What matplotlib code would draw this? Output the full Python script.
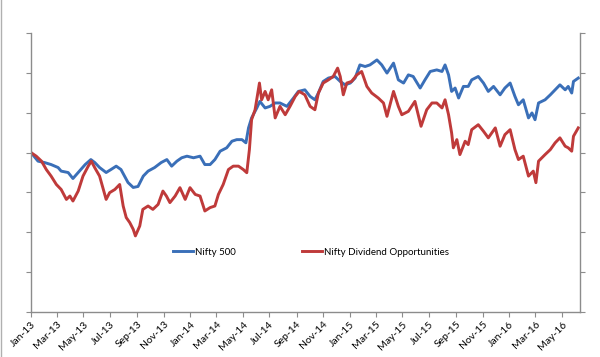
import numpy as np
import pandas as pd
import matplotlib
matplotlib.use('Agg')
import matplotlib.pyplot as plt
import matplotlib.dates as mdates
from matplotlib.lines import Line2D

# index values (base 100 on 1-Jan-2013), sampled by eye from the chart
start = pd.Timestamp('2013-01-01')
end = pd.Timestamp('2016-06-11')

n500_days = [0, 16, 31, 46, 62, 69, 85, 96, 108, 124, 137, 146, 157, 172, 183, 195, 206, 222,
             234, 245, 257, 268, 283, 298, 311, 322, 334, 345, 357, 372, 387, 398, 410, 421,
             433, 448, 460, 471, 483, 492, 498, 505, 517, 524, 536, 547, 559, 570, 586, 601,
             612, 627, 639, 650, 658, 669, 681, 696, 708, 719, 731, 742, 753, 765, 776, 792,
             803, 815, 830, 841, 853, 864, 875, 891, 902, 914, 929, 941, 948, 956, 963, 971,
             979, 990, 1001, 1009, 1024, 1036, 1047, 1059, 1074, 1085, 1097, 1108, 1116, 1127,
             1139, 1147, 1154, 1162, 1177, 1189, 1200, 1211, 1223, 1230, 1238, 1242, 1253]
n500_vals = [100, 95.7, 95.0, 94.0, 92.5, 90.7, 90.0, 87.0, 90.0, 94.0, 96.5, 95.0, 92.5, 90.0,
             91.5, 93.2, 91.5, 85.0, 82.5, 83.0, 88.2, 90.7, 92.5, 95.0, 96.5, 93.2, 95.7, 97.4,
             98.2, 97.4, 98.2, 94.0, 94.0, 96.5, 100.7, 102.4, 105.7, 106.5, 106.5, 104.9, 112.4,
             117.4, 122.4, 125.7, 122.4, 123.2, 124.9, 124.9, 123.2, 127.4, 130.7, 131.5, 128.2,
             126.5, 129.9, 135.7, 137.4, 138.2, 135.7, 134.0, 134.9, 137.4, 144.0, 143.2, 144.0,
             146.5, 144.0, 139.9, 144.9, 136.5, 134.9, 139.0, 138.2, 132.4, 136.5, 140.7, 141.5,
             140.7, 144.0, 139.0, 130.7, 132.4, 127.4, 133.2, 133.2, 136.5, 138.2, 134.9, 130.7,
             133.2, 129.0, 132.4, 134.9, 128.2, 124.0, 126.5, 117.4, 119.9, 116.5, 124.9, 126.5,
             129.0, 131.5, 134.0, 131.5, 133.2, 129.9, 135.7, 137.4]

ndo_days = [0, 12, 24, 35, 46, 58, 69, 81, 89, 96, 108, 119, 131, 138, 146, 157, 172, 180, 192,
            203, 211, 218, 226, 234, 239, 249, 256, 268, 279, 291, 302, 310, 318, 330, 341, 353,
            364, 376, 387, 398, 410, 421, 429, 440, 452, 463, 475, 486, 494, 500, 505, 513, 523,
            528, 536, 543, 551, 559, 570, 582, 593, 605, 614, 627, 639, 650, 658, 669, 681, 692,
            702, 708, 715, 723, 734, 746, 757, 769, 780, 795, 807, 815, 830, 841, 849, 864, 879,
            893, 906, 918, 929, 941, 948, 956, 963, 967, 975, 982, 994, 1001, 1009, 1024, 1036,
            1047, 1063, 1074, 1085, 1097, 1108, 1116, 1127, 1139, 1150, 1156, 1162, 1177, 1189,
            1200, 1211, 1223, 1230, 1238, 1242, 1253]
ndo_vals = [100, 98.2, 95.7, 91.5, 88.2, 84.0, 81.5, 76.5, 78.2, 75.7, 80.7, 88.2, 93.2, 95.7,
            92.4, 88.2, 76.5, 79.9, 81.5, 84.0, 73.2, 67.4, 64.9, 61.5, 58.2, 63.2, 71.5, 73.2,
            71.5, 74.0, 80.7, 78.2, 74.9, 78.2, 82.4, 76.5, 82.4, 79.0, 78.2, 70.7, 72.4, 73.2,
            79.0, 84.0, 91.5, 93.2, 93.2, 91.5, 89.9, 101.5, 116.5, 121.5, 134.9, 126.5, 130.7,
            126.5, 131.5, 117.4, 123.2, 119.0, 123.2, 128.2, 130.7, 129.0, 123.2, 121.5, 129.9,
            134.9, 136.5, 138.2, 142.4, 138.2, 129.0, 134.9, 135.7, 139.0, 140.7, 133.2, 129.9,
            127.4, 124.9, 118.2, 130.7, 123.2, 119.0, 120.7, 125.7, 113.2, 121.5, 124.9, 124.9,
            122.4, 126.5, 119.0, 109.9, 102.4, 106.5, 99.0, 105.7, 104.0, 111.5, 114.0, 110.7,
            107.4, 112.4, 103.2, 109.0, 111.5, 101.5, 96.5, 98.2, 88.2, 90.7, 84.9, 95.7, 99.0,
            101.5, 104.9, 107.4, 103.2, 102.4, 100.7, 108.2, 112.4]

series_names = ['Nifty 500', 'Nifty Dividend Opportunities']
colors = ['#3a6fb8', '#bf3a3a']

n500_dates = start + pd.to_timedelta(n500_days, unit='D')
ndo_dates = start + pd.to_timedelta(ndo_days, unit='D')

plt.rcParams['font.family'] = ['Lato', 'DejaVu Sans']

fig = plt.figure(figsize=(6, 3.57), dpi=100)
ax = fig.add_axes([0.0517, 0.126, 0.915, 0.7815])

ax.plot(n500_dates, n500_vals, color=colors[0], lw=2.1, label=series_names[0])
ax.plot(ndo_dates, ndo_vals, color=colors[1], lw=2.1, label=series_names[1])

ax.set_xlim(start, end)
ax.set_ylim(20, 160)
ax.set_yticks(np.arange(20, 161, 20))
ax.tick_params(axis='y', which='both', left=True, right=True, labelleft=False,
               labelright=False, length=3.5, color='#8c8c8c', direction='out')
ax.xaxis.set_major_locator(mdates.MonthLocator(bymonth=[1, 3, 5, 7, 9, 11]))
ax.xaxis.set_major_formatter(mdates.DateFormatter('%b-%y'))
ax.tick_params(axis='x', length=3.5, color='#8c8c8c', labelsize=7.5, pad=2)
for lbl in ax.get_xticklabels():
    lbl.set_rotation(45)
    lbl.set_ha('right')
    lbl.set_va('top')
    lbl.set_rotation_mode('anchor')

ax.spines['top'].set_visible(False)
for s in ['left', 'right', 'bottom']:
    ax.spines[s].set_color('#8c8c8c')
    ax.spines[s].set_linewidth(1)

ax.legend(loc='center', bbox_to_anchor=(0.51, 0.215), ncol=2, frameon=False,
          fontsize=7, handlelength=2.0, handletextpad=0.2, columnspacing=6.9)

# thin grey frame edge on the left of the picture
fig.add_artist(Line2D([0.002, 0.002], [0, 1], transform=fig.transFigure,
                      color='#b0b0b0', lw=1))

fig.savefig('out.png', dpi=100)
